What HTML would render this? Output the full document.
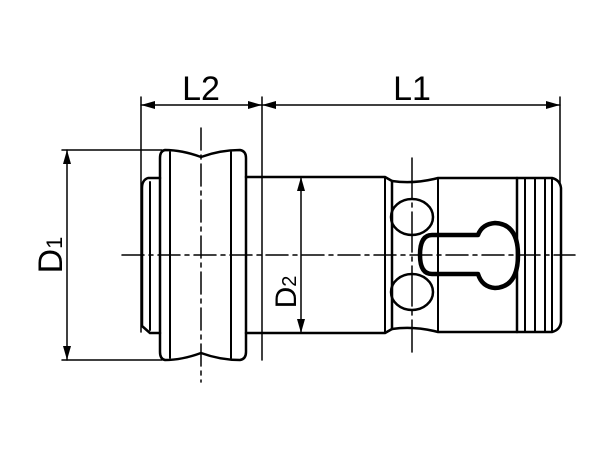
<!DOCTYPE html>
<html><head><meta charset="utf-8"><style>html,body{margin:0;padding:0;background:#fff}svg{display:block}</style></head>
<body>
<svg width="600" height="450" viewBox="0 0 600 450" xmlns="http://www.w3.org/2000/svg">
<g fill="none" stroke="#000" stroke-linecap="round" stroke-linejoin="round">
<!-- centerlines -->
<line x1="122" y1="255" x2="575" y2="255" stroke-width="1.5" stroke-dasharray="22,5,4,5"/>
<line x1="201" y1="128" x2="201" y2="382" stroke-width="1.5" stroke-dasharray="22,5,4,5"/>
<line x1="412" y1="158" x2="412" y2="352" stroke-width="1.5" stroke-dasharray="40,5,4,5"/>
<!-- extension lines -->
<line x1="141" y1="97" x2="141" y2="332" stroke-width="1.5"/>
<line x1="262" y1="97" x2="262" y2="360" stroke-width="1.5"/>
<line x1="560" y1="97" x2="560" y2="185" stroke-width="1.5"/>
<line x1="62" y1="150" x2="162" y2="150" stroke-width="1.5"/>
<line x1="62" y1="360" x2="162" y2="360" stroke-width="1.5"/>
<!-- dimension lines -->
<line x1="141" y1="105" x2="262" y2="105" stroke-width="1.5"/>
<line x1="262" y1="105" x2="560" y2="105" stroke-width="1.5"/>
<line x1="67" y1="150" x2="67" y2="360" stroke-width="1.5"/>
<line x1="301" y1="177" x2="301" y2="333" stroke-width="1.5"/>
<!-- collar -->
<path d="M160 178 L148 178 Q142 180 142 188 L142 326 L150 333 L160 333" stroke-width="2.5"/>
<line x1="150" y1="182" x2="150" y2="330" stroke-width="2"/>
<!-- flange -->
<path d="M165 150 Q182 150 201 157 Q220 150 240 150 Q246 151 246 158 L246 352 Q246 359 240 360 Q220 360 201 353 Q182 360 165 360 Q160 359 160 352 L160 158 Q160 151 165 150 Z" stroke-width="2.5"/>
<line x1="170" y1="152" x2="170" y2="358" stroke-width="2"/>
<line x1="231" y1="152" x2="231" y2="358" stroke-width="2"/>
<!-- body -->
<path d="M246 177 L385 177 L392 181 L392 329 L385 333 L246 333" stroke-width="2.5"/>
<line x1="385" y1="177" x2="385" y2="333" stroke-width="2"/>
<!-- ring section -->
<path d="M392 181 Q412 184 434 179 L438 178 L517 178 L517 332 L438 332 L434 331 Q412 326 392 329" stroke-width="2.5"/>
<line x1="438" y1="178" x2="438" y2="332" stroke-width="2"/>
<ellipse cx="412" cy="217" rx="21" ry="18" stroke-width="2.5"/>
<ellipse cx="412" cy="292" rx="21" ry="18" stroke-width="2.5"/>
<!-- keyhole -->
<path d="M432 235 L478 235 Q482 224 495 223 Q518 224 518 255 Q518 287 495 288 Q482 287 478 274 L432 274 Q420 274 420 255 Q420 235 432 235 Z" stroke-width="4.5"/>
<!-- grooves end -->
<path d="M517 178 L552 178 Q560 180 561 188 L561 322 Q560 330 552 332 L517 332" stroke-width="2.5"/>
<line x1="525" y1="178" x2="525" y2="332" stroke-width="2"/>
<line x1="535" y1="178" x2="535" y2="332" stroke-width="2"/>
<line x1="545" y1="178" x2="545" y2="332" stroke-width="2"/>
<line x1="552" y1="178" x2="552" y2="332" stroke-width="2"/>
</g>
<!-- arrowheads -->
<g fill="#000">
<polygon points="141,105 155,101 155,109"/>
<polygon points="262,105 248,101 248,109"/>
<polygon points="262,105 276,101 276,109"/>
<polygon points="560,105 546,101 546,109"/>
<polygon points="67,150 63,164 71,164"/>
<polygon points="67,360 63,346 71,346"/>
<polygon points="301,177 297,191 305,191"/>
<polygon points="301,333 297,319 305,319"/>
</g>
<g font-family="Liberation Sans, sans-serif" fill="#000">
<text x="201" y="100" font-size="34" text-anchor="middle">L2</text>
<text x="412" y="100" font-size="34" text-anchor="middle">L1</text>
<text transform="translate(62,255) rotate(-90)" font-size="34" text-anchor="middle">D<tspan font-size="22" dy="0">1</tspan></text>
<text transform="translate(296,292) rotate(-90)" font-size="30" text-anchor="middle">D<tspan font-size="20">2</tspan></text>
</g>
</svg>
</body></html>
